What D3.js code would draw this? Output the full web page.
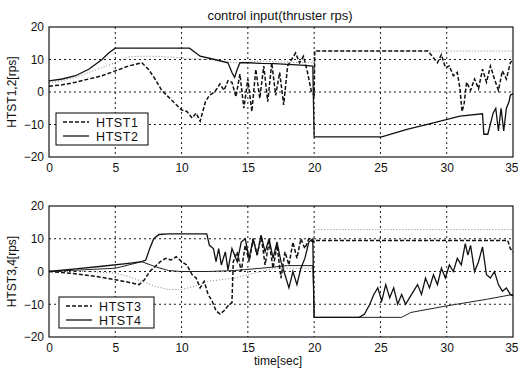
<!DOCTYPE html>
<html>
<head>
<meta charset="utf-8">
<script src="https://cdn.jsdelivr.net/npm/d3@7"></script>
<style>
  body { margin: 0; background: #fff; }
  svg { display: block; font-family: Arial, "Liberation Sans", sans-serif; }
</style>
</head>
<body>
<div id="chart"></div>
<script>
// tick labels
const xTicks = [0, 5, 10, 15, 20, 25, 30, 35]
const yTicks = [-20, -10, 0, 10, 20]
const gridX = [5, 10, 15, 20, 25, 30]
const gridY = [-10, 0, 10]

// upper panel: HTST1 (dashed), HTST2 (solid), plus a thin dotted trace
const h1T = [0,1,2,3,4,5,6,7,7.5,8,8.5,9,9.5,10,10.4,10.8,11.1,11.4,11.8,12.1,12.5,12.9,13.2,13.5,13.8,14.1,14.4,14.7,15,15.3,15.6,15.9,16.2,16.5,16.8,17.1,17.4,17.7,18,18.3,18.6,18.9,19.2,19.5,19.8,20,20.05,28.6,28.9,29.3,29.6,29.9,30.2,30.5,30.8,31,31.15,31.3,31.5,31.8,32.1,32.4,32.7,33,33.3,33.6,33.9,34.2,34.5,34.8,35]
const h1V = [1.8,2.2,3,4,5,6.5,8,9,7,4,0.5,-1.5,-3.5,-5.5,-6,-8,-6.5,-9,-3,-1,0,2.5,0.5,3.5,3,-1.5,5.5,-5,4,-6,7,-2,8,-3,9,-1,6,-4,8,10,12,9,11,6,0,-1,12.6,12.6,11,9,11.5,7.5,8,5,6,1,-6,-4,3,0.5,4,1,7,3,8,4,0.5,6.5,4,9,10]

const h2T = [0,1,2,3,4,4.5,5,10.6,11.4,12.5,13.5,13.8,14,14.2,14.4,15,16,17,18,19,19.9,20,25.1,27,29,31,32.7,32.8,33.1,33.5,33.7,33.9,34.1,34.3,34.5,34.7,34.8,35]
const h2V = [3.4,4,5,7,10,12,13.5,13.5,11,10,9,6,4.5,7,9,9,8.8,8.7,8.5,8.3,8,-13.8,-13.8,-11.5,-9.5,-7.4,-6.7,-13,-13,-6.5,-5,-12,-5,-12,-5,-3,-1,-0.5]

const r12T = [0,1,2,3,4,5,6,7,8,9,10,11,12,13,14,15,16,17,18,19,19.9,20,35]
const r12V = [2.8,3.5,4.5,6,7.5,9,10.8,11,11,10.8,10.5,10.2,10,9.5,9,9.2,9.5,9.3,9.2,9,9,12.6,12.6]

// lower panel: HTST3 (dashed), HTST4 (solid), plus thin traces
const h3T = [0,1,2,3,4,5,6,6.8,7.2,7.6,8,8.4,8.8,9.2,9.6,10,10.4,10.8,11.1,11.4,11.7,12,12.3,12.6,12.9,13.2,13.5,13.8,13.9,14.2,14.5,14.8,15.1,15.4,15.7,16,16.3,16.6,16.9,17.2,17.5,17.8,18.1,18.4,18.7,19,19.3,19.6,19.9,20,34.6,34.8,35]
const h3V = [0,-0.3,-0.7,-1.2,-1.8,-2.5,-3.3,-4,-2.5,0,1.5,3,4,3.5,4.5,3,2,-1,-2,-5,-3,-7,-9,-12,-13,-12,-10.5,-9.5,3,6,0,8,3,10,5,11,2,9,1,8,-2,6,2,9,4,10,7,10,9,9.5,9.5,7,6]

const h4T = [0,2,4,6,7,7.3,7.6,7.9,8.3,9,11.9,12.1,12.4,12.6,12.8,13,13.3,13.5,13.8,14.2,14.5,14.8,15.1,15.4,15.7,16,16.3,16.6,16.9,17.2,17.5,17.8,18.1,18.4,18.7,19,19.3,19.6,19.9,20,23.4,23.8,24.2,24.5,24.8,25.1,25.4,25.7,26,26.3,26.6,26.9,27.2,27.5,27.8,28.1,28.4,28.7,29,29.3,29.6,29.9,30.2,30.5,30.8,31.1,31.4,31.6,31.8,32.1,32.4,32.7,33,33.3,33.6,33.9,34.2,34.5,34.8,35]
const h4V = [0,0.8,1.6,2.5,3,3.5,7,10,11.3,11.5,11.5,8,7,3,7,2,6,0.5,7,3,9,10,4,10,5,11,6,10,4,9,3,-1,-5,0,-4,1,4,9,10,-14,-14,-13,-10,-7,-5,-9,-4,-8,-5,-10,-7,-10,-8,-6,-4,-7,-2,-5,-1,-4,1,-2,2,0,4,2,8.5,5,8,0,3,7.5,-1,-2,0,-4,-6,-5,-7,-7.5]

const r34aT = [0,5,7,8,9,10,12,14,16,18,19.9,20,26.6,27.3,30,33,35]
const r34aV = [0,1,3,1.5,0.3,0,0,0.3,1,1.8,1.8,-14,-14,-12.5,-10.5,-8.5,-7]

const r34bT = [0,3,5,6,7,8,9,10,11,12,13,14,15,16,17,18,19,19.9,20,35]
const r34bV = [0,0,-0.5,-1.5,-3,-4.5,-5.5,-5.5,-4.5,-3,-2.5,-2,-1,0,1,1,1,1,12.8,12.8]

const zip = (t, v) => t.map((d, i) => [d, v[i]])

const width = 518, height = 369
const svg = d3.select("#chart").append("svg")
  .attr("width", width)
  .attr("height", height)

const x = d3.scaleLinear().domain([0, 35]).range([49, 513])

const panels = [
  {
    top: 27, bottom: 157, ylabel: "HTST1,2[rps]",
    series: [
      { data: zip(r12T, r12V), w: 0.8, color: "#666", dash: "1,2" },
      { data: zip(h2T, h2V), w: 1.3, color: "#111", dash: null },
      { data: zip(h1T, h1V), w: 1.5, color: "#111", dash: "4,2" }
    ],
    legend: { x0: 56, y0: 113, w: 92, h: 32, names: ["HTST1", "HTST2"] }
  },
  {
    top: 206, bottom: 337, ylabel: "HTST3,4[rps]",
    series: [
      { data: zip(r34bT, r34bV), w: 0.8, color: "#666", dash: "1,2" },
      { data: zip(r34aT, r34aV), w: 1, color: "#222", dash: null },
      { data: zip(h4T, h4V), w: 1.3, color: "#111", dash: null },
      { data: zip(h3T, h3V), w: 1.5, color: "#111", dash: "4,2" }
    ],
    legend: { x0: 59, y0: 297, w: 95, h: 31, names: ["HTST3", "HTST4"] }
  }
]

panels.forEach((p, pi) => {
  const y = d3.scaleLinear().domain([-20, 20]).range([p.bottom, p.top])
  const g = svg.append("g")

  // grid
  g.selectAll("line.gx").data(gridX).enter().append("line")
    .attr("x1", d => x(d)).attr("x2", d => x(d))
    .attr("y1", p.top).attr("y2", p.bottom)
    .attr("stroke", "#000").attr("stroke-width", 0.9).attr("stroke-dasharray", "2,3")
  g.selectAll("line.gy").data(gridY).enter().append("line")
    .attr("x1", x(0)).attr("x2", x(35))
    .attr("y1", d => y(d)).attr("y2", d => y(d))
    .attr("stroke", "#000").attr("stroke-width", 0.9).attr("stroke-dasharray", "2,3")

  // traces
  const line = d3.line().x(d => x(d[0])).y(d => y(d[1]))
  p.series.forEach(s => {
    g.append("path")
      .attr("d", line(s.data))
      .attr("fill", "none")
      .attr("stroke", s.color)
      .attr("stroke-width", s.w)
      .attr("stroke-dasharray", s.dash)
  })

  // box
  g.append("rect")
    .attr("x", x(0)).attr("y", p.top)
    .attr("width", x(35) - x(0)).attr("height", p.bottom - p.top)
    .attr("fill", "none").attr("stroke", "#000").attr("stroke-width", 1.1)

  // axes
  const xa = g.append("g").attr("transform", `translate(0,${p.bottom})`)
    .call(d3.axisBottom(x).tickValues(xTicks).tickSize(0).tickPadding(6).tickFormat(d3.format("d")))
  const ya = g.append("g").attr("transform", `translate(${x(0)},0)`)
    .call(d3.axisLeft(y).tickValues(yTicks).tickSize(0).tickPadding(5).tickFormat(d3.format("d")))
  ;[xa, ya].forEach(a => {
    a.select(".domain").remove()
    a.selectAll("text").attr("font-size", 12).attr("fill", "#111").attr("font-family", "Arial, 'Liberation Sans', sans-serif")
  })
  // last x label sits right at the window edge
  xa.selectAll(".tick").filter(d => d === 35).select("text").attr("text-anchor", "end").attr("x", 5)

  // y label
  svg.append("text")
    .attr("transform", `translate(16,${(p.top + p.bottom) / 2}) rotate(-90)`)
    .attr("text-anchor", "middle")
    .attr("font-size", 12).attr("fill", "#111")
    .text(p.ylabel)

  // legend
  const L = p.legend
  const lg = g.append("g")
  lg.append("rect")
    .attr("x", L.x0).attr("y", L.y0).attr("width", L.w).attr("height", L.h)
    .attr("fill", "#fff").attr("stroke", "#000").attr("stroke-width", 1)
  L.names.forEach((n, i) => {
    const ly = L.y0 + 9 + i * 14
    lg.append("line")
      .attr("x1", L.x0 + 7).attr("x2", L.x0 + 33)
      .attr("y1", ly).attr("y2", ly)
      .attr("stroke", "#111").attr("stroke-width", 1.3)
      .attr("stroke-dasharray", i === 0 ? "4,2" : null)
    lg.append("text")
      .attr("x", L.x0 + 40).attr("y", ly + 4.5)
      .attr("font-size", 12.5).attr("letter-spacing", 0.6).attr("fill", "#111")
      .text(n)
  })
})

svg.append("text")
  .attr("x", 280).attr("y", 20)
  .attr("text-anchor", "middle")
  .attr("font-size", 13).attr("fill", "#111")
  .text("control input(thruster rps)")

svg.append("text")
  .attr("x", 278).attr("y", 365)
  .attr("text-anchor", "middle")
  .attr("font-size", 12).attr("fill", "#111")
  .text("time[sec]")
</script>
</body>
</html>
